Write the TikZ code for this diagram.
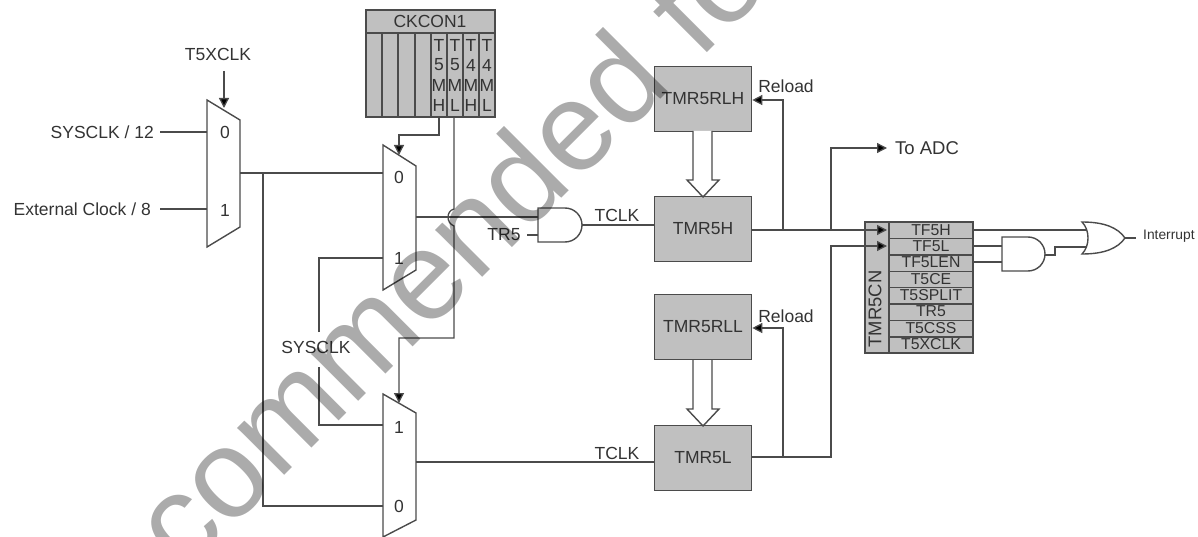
\documentclass[tikz,border=0pt]{standalone}
\usepackage{fontspec}
\setmainfont{Liberation Sans}
\usetikzlibrary{arrows.meta, calc, positioning}
\definecolor{regfill}{RGB}{192,192,192}
\definecolor{wire}{RGB}{75,75,75}
\tikzset{
  wirepath/.style={draw=wire, line width=1.3pt, line join=miter},
  sigarrow/.style={wirepath, -{Triangle[length=10pt,width=10pt,fill=black]}},
  timerbox/.style={draw=wire, line width=1.6pt, fill=regfill, minimum width=97pt, minimum height=65pt, inner sep=0pt, font=\lbl, text=black!80},
  portbox/.style={draw=wire, line width=1.4pt, fill=regfill},
  gatepath/.style={draw=wire, line width=1.4pt, fill=white},
  lbl/.style={inner sep=0pt, font=\lbl, text=black!80},
  flaglbl/.style={inner sep=0pt, font=\fontsize{15.8}{15.8}\selectfont, text=black!80},
}
\newcommand{\lbl}{\fontsize{17.5}{17.5}\selectfont}
\begin{document}
\begin{tikzpicture}[x=1pt,y=-1pt]
\useasboundingbox (0,0) rectangle (1198,537);
\clip (0,0) rectangle (1198,537);
% Mux de entrada
\draw[gatepath] (207,100) -- (240,120) -- (240,227) -- (207,247) -- cycle;
\node[lbl] (in0) at (225,132) {0};
\node[lbl] (in1) at (225,210) {1};
\node[lbl, anchor=east] (sysdiv) at (154,132) {SYSCLK / 12};
\node[lbl, anchor=east] (extdiv) at (151,209) {External Clock / 8};
\node[lbl] (t5x) at (218,54) {T5XCLK};
\coordinate (sysend) at (160,132);
\coordinate (extend) at (160,209);
\coordinate (muxa0) at (207,132);
\coordinate (muxa1) at (207,209);
\coordinate (muxaout) at (240,173);
\coordinate (muxasel) at (224,108);
\coordinate (t5xend) at (224,71);
\draw[wirepath] (sysend) -- (muxa0);
\draw[wirepath] (extend) -- (muxa1);
\draw[sigarrow] (t5xend) -- (muxasel);
% Mux superior
\draw[gatepath] (383,145) -- (416,166) -- (416,270) -- (383,290) -- cycle;
\node[lbl] (muxb0) at (399,177) {0};
\node[lbl] (muxb1) at (399,258) {1};
\coordinate (muxbin0) at (383,173);
\coordinate (muxbin1) at (383,258);
\coordinate (muxbsel) at (399,155);
\coordinate (muxbout) at (416,217);
% Mux inferior
\draw[gatepath] (383,394) -- (416,413) -- (416,520) -- (383,537) -- cycle;
\node[lbl] (muxc1) at (399,427) {1};
\node[lbl] (muxc0) at (399,506) {0};
\coordinate (muxcin1) at (383,425);
\coordinate (muxcin0) at (383,506);
\coordinate (muxcsel) at (399,403);
\coordinate (muxcout) at (416,462);
% CKCON1
\draw[portbox] (366,10) rectangle (495,117);
\draw[wire, line width=1.4pt] (366,33) -- (495,33);
\foreach \x in {382,398,415,431,447,463,479} {
    \draw[wire, line width=1.4pt] (\x,33) -- (\x,117);
}
\node[lbl] (ckcon) at (430,21) {CKCON1};
\foreach \x/\a/\b/\c/\d in {439/T/5/M/H, 455/T/5/M/L, 471/T/4/M/H, 487/T/4/M/L} {
    \node[lbl] at (\x,45) {\a};
    \node[lbl] at (\x,65) {\b};
    \node[lbl] at (\x,85) {\c};
    \node[lbl] at (\x,105) {\d};
}
\coordinate (t5mh) at (439,117);
\coordinate (t5ml) at (454,117);
% Selectores
\draw[sigarrow] (t5mh) |- (420,135) -| (muxbsel);
\draw[sigarrow] (t5ml) -- (454,209) .. controls (446,211) and (446,223) .. (454,226) -- (454,338) -- (399,338) -- (muxcsel);
\draw[wirepath] (muxaout) -- (muxbin0);
\draw[wirepath] (263,173) |- (muxcin0);
\node[lbl] (sysclk) at (316,347) {SYSCLK};
\coordinate (sysup) at (319,332);
\coordinate (sysdown) at (319,367);
\draw[wirepath] (sysup) |- (muxbin1);
\draw[wirepath] (sysdown) |- (muxcin1);
% Puerta AND de TR5
\draw[gatepath] (538,208) -- (565,208) arc (90:-90:17pt and 17pt) -- (538,242) -- cycle;
\coordinate (anda) at (538,217);
\coordinate (andb) at (538,235);
\coordinate (andout) at (582,225);
\coordinate (trend) at (527,235);
\node[lbl] (trfive) at (504,235) {TR5};
\draw[wirepath] (muxbout) -- (anda);
\draw[wirepath] (trend) -- (andb);
% Temporizadores
\node[timerbox] (rlh) at (703,99) {TMR5RLH};
\node[timerbox] (tmh) at (703,229) {TMR5H};
\node[timerbox] (rll) at (703,327) {TMR5RLL};
\node[timerbox] (tml) at (703,458) {TMR5L};
\coordinate (tmlin) at (655,462);
\coordinate (tmhin) at (655,225);
\draw[wirepath] (andout) -- (tmhin);
\draw[wirepath] (muxcout) -- (tmlin);
\node[lbl] (tclka) at (617,215) {TCLK};
\node[lbl] (tclkb) at (617,453) {TCLK};
% Flechas huecas
\foreach \t in {131,360} {
    \draw[draw=wire, line width=1.4pt, fill=white] (693,\t) -- (693,\t+49) -- (687,\t+49) -- (703,\t+66) -- (719,\t+49) -- (712,\t+49) -- (712,\t);
}
% Recarga
\coordinate (rlatap) at (783,230);
\coordinate (rlbtap) at (783,457);
\draw[sigarrow] (rlatap) |- (rlh.east |- 0,100);
\draw[sigarrow] (rlbtap) |- (rll.east |- 0,328);
\node[lbl] (relda) at (786,86) {Reload};
\node[lbl] (reldb) at (786,316) {Reload};
% TMR5CN
\draw[portbox] (865,222) rectangle (973,353);
\draw[wire, line width=1.4pt] (889,222) -- (889,353);
\foreach \n/\s in {0/TF5H,1/TF5L,2/TF5LEN,3/T5CE,4/T5SPLIT,5/TR5,6/T5CSS,7/T5XCLK} {
    \node[flaglbl] (flag\n) at (931,{230+\n*16.3}) {\s};
    \ifnum\n>0
        \draw[wire, line width=1.4pt] (889,{222+\n*16.4}) -- (973,{222+\n*16.4});
    \fi
}
\node[lbl, rotate=90, font=\fontsize{18.4}{18.4}\selectfont] (tmrcn) at (875,309) {TMR5CN};
\coordinate (hend) at (887,230);
\coordinate (lend) at (887,246);
\coordinate (adcend) at (887,148);
\coordinate (adctap) at (831,230);
\draw[sigarrow] (tmh.east |- 0,230) -- (hend);
\draw[sigarrow] (tml.east |- 0,457) -- (831,457) |- (lend);
\draw[sigarrow] (adctap) |- (adcend);
\node[lbl, anchor=west, font=\fontsize{18.5}{18.5}\selectfont] (adc) at (895,148) {To ADC};
% Salida de interrupcion
\draw[gatepath] (1002,237) -- (1028,237) arc (90:-90:17pt and 17pt) -- (1002,271) -- cycle;
\draw[gatepath] (1082,222) .. controls (1105,222) and (1118,228) .. (1125,238) .. controls (1118,248) and (1105,254) .. (1082,254) .. controls (1090,246) and (1090,230) .. (1082,222) -- cycle;
\coordinate (flagh) at (973,230);
\coordinate (flagl) at (973,246);
\coordinate (flaglen) at (973,262);
\coordinate (orin) at (1087,230);
\coordinate (orinb) at (1087,247);
\coordinate (orout) at (1125,238);
\coordinate (intend) at (1136,238);
\draw[wirepath] (flagh) -- (orin);
\draw[wirepath] (flagl) -- (1002,246);
\draw[wirepath] (flaglen) -- (1002,262);
\draw[wirepath] (1045,255) -- (1055,255) |- (orinb);
\draw[wirepath] (orout) -- (intend);
\node[inner sep=0pt, anchor=west, font=\fontsize{13.8}{13.8}\selectfont, text=black!80] (intr) at (1143,236) {Interrupt};
% Marca de agua
\node[anchor=base west, inner sep=0pt, rotate=45, text=black, opacity=0.33, font=\fontsize{126}{126}\selectfont] (wmark) at (184,576) {commended fo};
\end{tikzpicture}
\end{document}
